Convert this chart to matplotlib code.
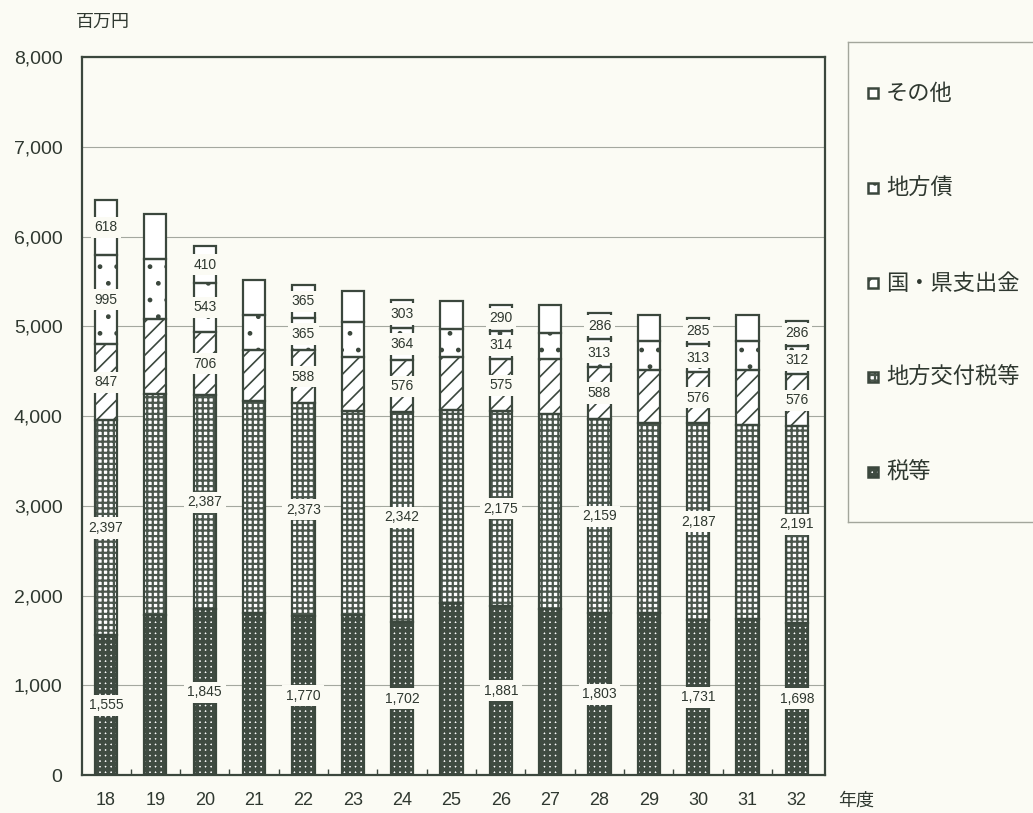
import numpy as np
import matplotlib
matplotlib.use("Agg")
import matplotlib.pyplot as plt
from matplotlib.patches import Rectangle

plt.rcParams['font.family'] = ['Liberation Sans', 'Noto Sans CJK JP', 'DejaVu Sans']

# 年度別の歳入内訳（百万円）
years = ["18", "19", "20", "21", "22", "23", "24", "25", "26", "27", "28", "29", "30", "31", "32"]
zei = [1555, 1780, 1845, 1800, 1770, 1780, 1702, 1920, 1881, 1850, 1803, 1800, 1731, 1740, 1698]
koufuzei = [2397, 2470, 2387, 2370, 2373, 2280, 2342, 2145, 2175, 2170, 2159, 2120, 2187, 2160, 2191]
kokuken = [847, 835, 706, 570, 588, 600, 576, 595, 575, 610, 588, 590, 576, 610, 576]
chihousai = [995, 665, 543, 380, 365, 385, 364, 315, 314, 290, 313, 325, 313, 325, 312]
sonota = [618, 500, 410, 390, 365, 345, 303, 305, 290, 315, 286, 285, 285, 285, 286]
series_names = ["税等", "地方交付税等", "国・県支出金", "地方債", "その他"]

INK = "#3b473d"
BG = "#fbfbf4"
GRID = "#a4a89f"
TXT = "#2f3830"
JP = ['Noto Sans CJK JP', 'DejaVu Sans']

# 系列ごとの塗り: (地色, ハッチ色, ハッチ, ハッチ線幅)
styles = [
    ("#ffffff", "#3f4b41", "+++", 2.8),
    ("#ffffff", "#4a564c", "+++", 1.6),
    ("#ffffff", INK, "//", 1.2),
    ("#ffffff", INK, ".", 1.0),
    ("#ffffff", INK, "", 1.0),
]


def draw_segment(ax, x, h, bottom, style, width):
    face, hcol, hatch, hlw = style
    with plt.rc_context({"hatch.linewidth": hlw}):
        bars = ax.bar(x, h, width, bottom=bottom, color=face, edgecolor=hcol,
                      hatch=hatch, linewidth=0, zorder=2)
    for b in bars:
        if hasattr(b, "set_hatch_linewidth"):
            b.set_hatch_linewidth(hlw)
    ax.bar(x, h, width, bottom=bottom, fill=False, edgecolor=INK,
           linewidth=1.6, zorder=3)
    return bars


fig = plt.figure(figsize=(10.33, 8.13), dpi=100, facecolor=BG)
ax = fig.add_axes([0.0794, 0.0467, 0.7192, 0.8832], facecolor=BG)

x = np.arange(len(years))
width = 0.45
data = [zei, koufuzei, kokuken, chihousai, sonota]
bottom = np.zeros(len(years))
for vals, st in zip(data, styles):
    vals = np.array(vals, dtype=float)
    draw_segment(ax, x, vals, bottom, st, width)
    # 偶数番目の年度のみ数値を表示
    for i in range(0, len(years), 2):
        ax.text(x[i], bottom[i] + vals[i] / 2, f"{int(vals[i]):,}",
                ha="center", va="center", fontsize=10, color=TXT,
                zorder=5,
                bbox=dict(facecolor=BG, edgecolor="none", pad=2.6))
    bottom += vals

ax.set_ylim(0, 8000)
ax.set_xlim(-0.487, 14.57)
ax.set_yticks(np.arange(0, 8001, 1000))
ax.set_yticklabels([f"{v:,}" for v in range(0, 8001, 1000)])
ax.yaxis.grid(True, color=GRID, linewidth=0.8)
ax.set_axisbelow(True)
ax.tick_params(axis="y", length=0, pad=14, labelsize=14, labelcolor=TXT)
ax.set_xticks(x)
ax.set_xticklabels(years)
ax.tick_params(axis="x", length=0, pad=12, labelsize=13, labelcolor=TXT)
ax.set_xticks(x[:-1] + 0.5, minor=True)
ax.tick_params(axis="x", which="minor", direction="in", length=4, color=INK, width=1)
for s in ax.spines.values():
    s.set_color(INK)
    s.set_linewidth(1.6)

fig.text(103 / 1033, 1 - 22 / 813, "百万円", fontsize=13, color=TXT,
         ha="center", va="center", family=JP)
fig.text(856 / 1033, 1 - 801 / 813, "年度", fontsize=13, color=TXT,
         ha="center", va="center", family=JP)

# 凡例（上から その他 → 税等）
lax = fig.add_axes([848 / 1033, 1 - 522 / 813, 0.2, 480 / 813], facecolor=BG)
lax.set_xlim(0, 206.6)
lax.set_ylim(0, 480)
lax.set_xticks([])
lax.set_yticks([])
for s in lax.spines.values():
    s.set_color("#a3a69c")
    s.set_linewidth(1.0)
entry_y = [429, 334, 239, 145, 50]
for yy, name, st in zip(entry_y, series_names[::-1], styles[::-1]):
    face, hcol, hatch, hlw = st
    with plt.rc_context({"hatch.linewidth": hlw}):
        r = Rectangle((20, yy - 5), 10, 10, facecolor=face, edgecolor=hcol,
                      hatch=hatch, linewidth=0)
    if hasattr(r, "set_hatch_linewidth"):
        r.set_hatch_linewidth(hlw)
    lax.add_patch(r)
    lax.add_patch(Rectangle((20, yy - 5), 10, 10, fill=False, edgecolor=INK,
                            linewidth=1.8))
    lax.text(38, yy, name, fontsize=16, va="center", ha="left",
             color=TXT, family=JP)

fig.savefig("out.png", dpi=100, facecolor=BG)
